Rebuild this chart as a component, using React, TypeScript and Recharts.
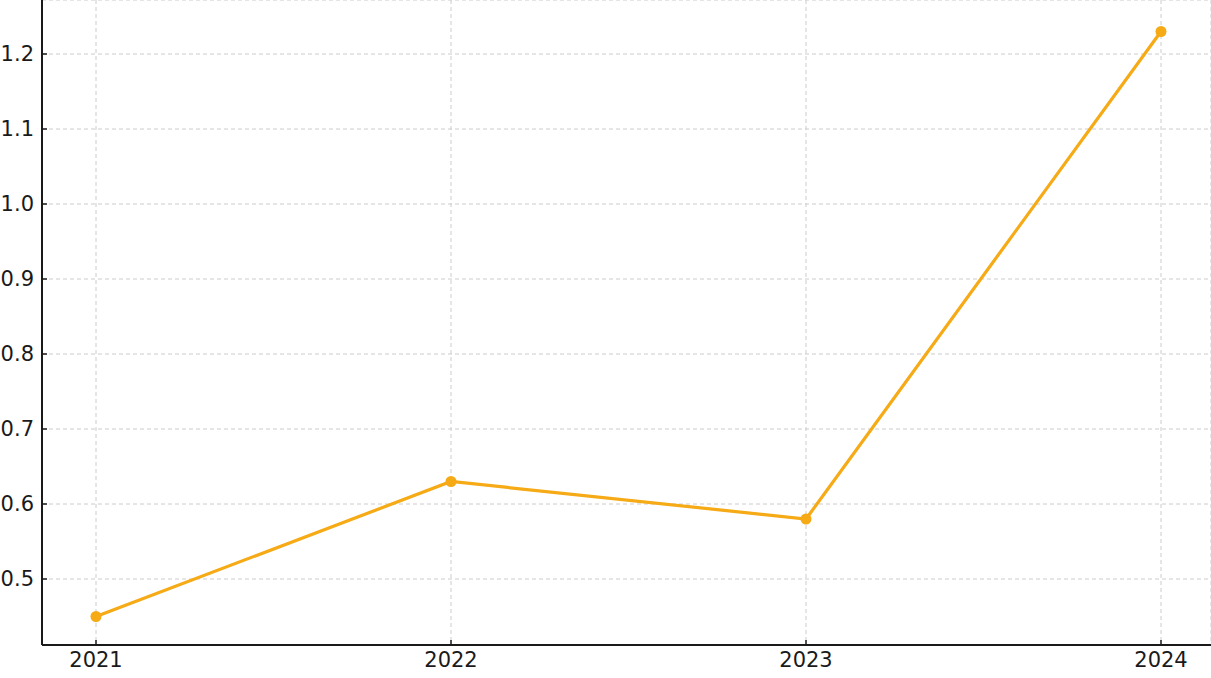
import React from 'react';
import { LineChart, Line, XAxis, YAxis, CartesianGrid } from 'recharts';

const years = ['2021', '2022', '2023', '2024'];
const values = [0.45, 0.63, 0.58, 1.23];
const yTicks = [0.5, 0.6, 0.7, 0.8, 0.9, 1.0, 1.1, 1.2];

const data = years.map((year, i) => ({ year, value: values[i] }));

const tickStyle = { fill: '#1a1a1a', fontSize: 21, fontFamily: 'DejaVu Sans' };

const App: React.FC = () => {
  return (
    <div style={{ position: 'absolute', left: 0, top: 0, background: '#fff' }}>
      <LineChart
        width={1211}
        height={678}
        data={data}
        margin={{ top: 0, right: 0, left: 0, bottom: 0 }}
      >
        <CartesianGrid stroke="#cccccc" strokeDasharray="4 3" />
        <XAxis
          dataKey="year"
          height={33}
          padding={{ left: 54, right: 50 }}
          tick={tickStyle}
          tickSize={-5}
          tickMargin={12}
          stroke="#1a1a1a"
          axisLine={{ stroke: '#1a1a1a', strokeWidth: 2 }}
          tickLine={{ stroke: '#1a1a1a', strokeWidth: 1.5 }}
          interval={0}
        />
        <YAxis
          width={42}
          domain={[0.412, 1.272]}
          ticks={yTicks}
          allowDataOverflow
          tickFormatter={(v: number) => v.toFixed(1)}
          tick={tickStyle}
          tickSize={-5}
          tickMargin={13}
          stroke="#1a1a1a"
          axisLine={{ stroke: '#1a1a1a', strokeWidth: 2 }}
          tickLine={{ stroke: '#1a1a1a', strokeWidth: 1.5 }}
        />
        <Line
          type="linear"
          dataKey="value"
          stroke="#F5AA16"
          strokeWidth={3.2}
          dot={{ r: 5.5, fill: '#F5AA16', stroke: '#F5AA16', strokeWidth: 0 }}
          activeDot={false}
          isAnimationActive={false}
        />
      </LineChart>
    </div>
  );
};

export default App;
